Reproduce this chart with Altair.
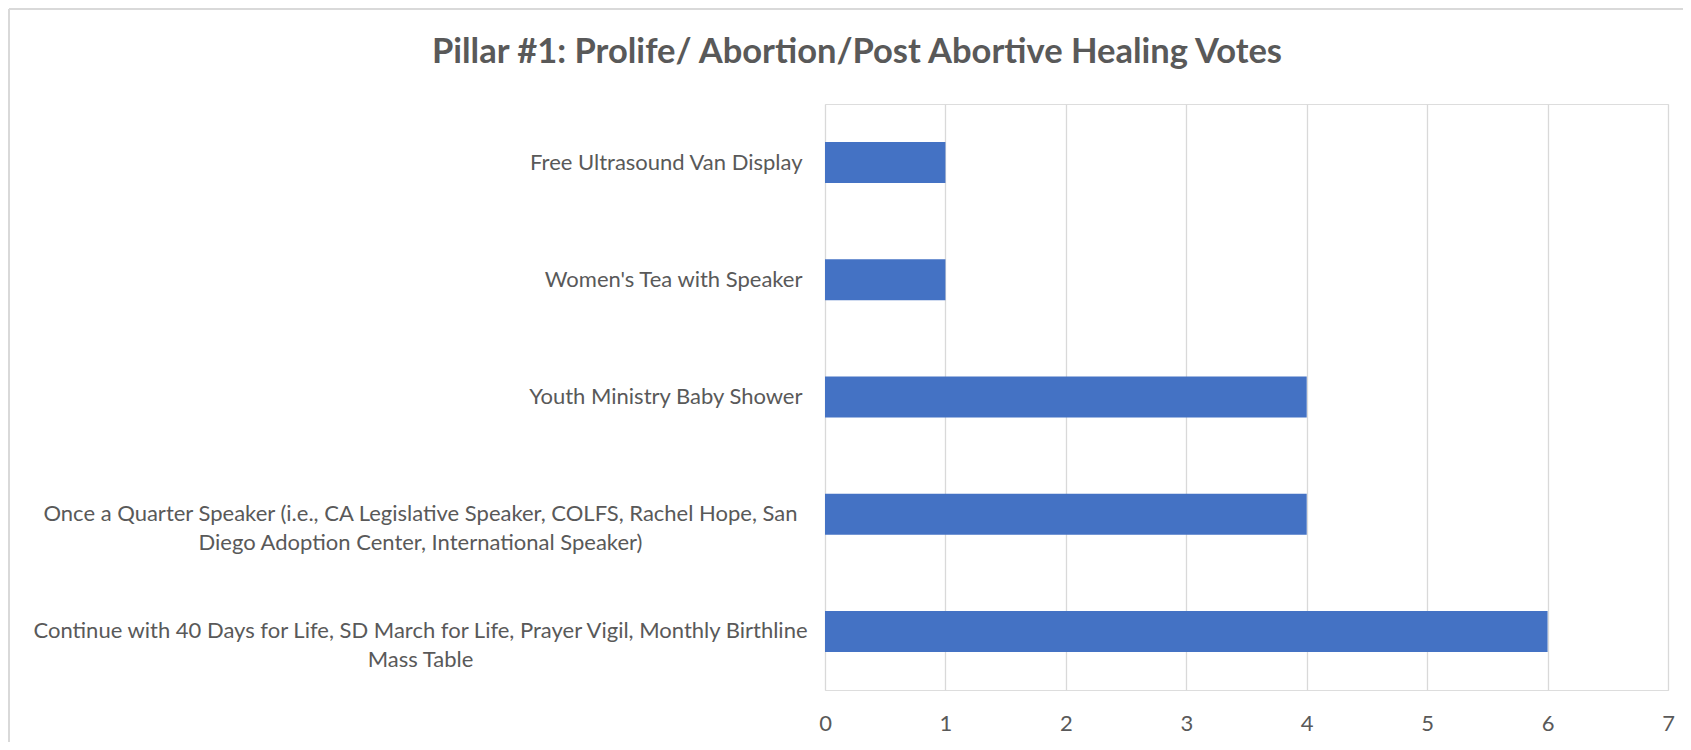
import altair as alt
import pandas as pd

# ---- data ----
categories = [
    "Free Ultrasound Van Display",
    "Women's Tea with Speaker",
    "Youth Ministry Baby Shower",
    "Once a Quarter Speaker (i.e., CA Legislative Speaker, COLFS, Rachel Hope, San\nDiego Adoption Center, International Speaker)",
    "Continue with 40 Days for Life, SD March for Life, Prayer Vigil, Monthly Birthline\nMass Table",
]
votes = [1, 1, 4, 4, 6]
x_ticks = [0, 1, 2, 3, 4, 5, 6, 7]
title_text = "Pillar #1: Prolife/ Abortion/Post Abortive Healing Votes"

df = pd.DataFrame({"item": categories, "votes": votes})

FONT = "Lato"
GRAY = "#595959"
LINE = "#d9d9d9"

PAD_L, PAD_T, PAD_R, PAD_B = 817, 96, 15, 52
W, H = 843, 586

multi = "indexof(datum.value, '\\n') >= 0"

bars = alt.Chart(df).mark_bar(color="#4472C4").encode(
    x=alt.X(
        "votes:Q",
        scale=alt.Scale(domain=[0, 7], nice=False, zero=True),
        axis=alt.Axis(
            values=x_ticks,
            title=None,
            grid=True,
            gridColor=LINE,
            gridWidth=1.3,
            domain=False,
            ticks=False,
            labelFont=FONT,
            labelFontSize=22,
            labelColor=GRAY,
            labelPadding=23,
            labelFlush=False,
            format="d",
        ),
    ),
    y=alt.Y(
        "item:N",
        sort=categories,
        scale=alt.Scale(paddingInner=0.65, paddingOuter=0.325),
        axis=alt.Axis(
            title=None,
            domain=False,
            ticks=False,
            grid=False,
            labelExpr="split(datum.label, '\\n')",
            labelAlign={"condition": {"test": multi, "value": "center"}, "value": "right"},
            labelPadding={"condition": {"test": multi, "value": 405}, "value": 23},
            labelBaseline="middle",
            labelLimit=0,
            labelOverlap=False,
            labelLineHeight=29,
            labelFont=FONT,
            labelFontSize=22,
            labelColor=GRAY,
        ),
    ),
)

one = pd.DataFrame({"k": [0]})
border_top = alt.Chart(one).mark_rule(color=LINE, strokeWidth=2).encode(
    x=alt.value(1 - PAD_L), x2=alt.value(W + PAD_R), y=alt.value(1 - PAD_T)
)
border_left = alt.Chart(one).mark_rule(color=LINE, strokeWidth=2).encode(
    x=alt.value(1 - PAD_L), y=alt.value(1 - PAD_T), y2=alt.value(H + PAD_B)
)
title = alt.Chart(one).mark_text(
    text=title_text,
    font=FONT,
    fontSize=34.5,
    fontWeight="bold",
    color=GRAY,
    align="center",
    baseline="alphabetic",
).encode(x=alt.value(857 - 825), y=alt.value(63 - 104))

chart = (
    alt.layer(border_top, border_left, bars, title)
    .properties(
        width=W,
        height=H,
        autosize=alt.AutoSizeParams(type="none"),
        padding={"left": PAD_L, "top": PAD_T, "right": PAD_R, "bottom": PAD_B},
    )
    .configure_view(strokeWidth=0)
    .configure(background="white")
)

chart.save("out.html", embed_options={"renderer": "svg", "actions": False})
